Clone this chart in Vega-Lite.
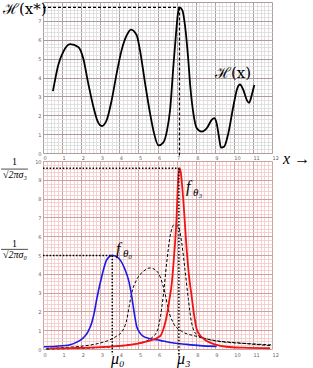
{
  "$schema": "https://vega.github.io/schema/vega-lite/v6.json",
  "autosize": "none",
  "padding": {"left": 43, "top": 2, "right": 270, "bottom": 366},
  "bounds": "flush",
  "spacing": 8,
  "config": {
    "view": {"stroke": null},
    "axis": {"labelFont": "DejaVu Sans", "labelFontSize": 5, "labelColor": "#666", "ticks": false, "domain": false, "labelOverlap": false, "labelFlush": false, "labelBound": false}
  },
  "datasets": {
    "H": [
      {"x":0.52,"y":3.28},{"x":0.63,"y":3.86},{"x":0.8,"y":4.66},{"x":1.06,"y":5.36},{"x":1.42,"y":5.77},{"x":1.85,"y":5.62},{"x":2.11,"y":5.01},{"x":2.37,"y":3.69},{"x":2.64,"y":2.45},{"x":2.87,"y":1.66},{"x":3.08,"y":1.43},{"x":3.34,"y":1.75},{"x":3.6,"y":2.8},{"x":3.86,"y":4.22},{"x":4.12,"y":5.45},{"x":4.39,"y":6.24},{"x":4.61,"y":6.54},{"x":4.91,"y":6.24},{"x":5.08,"y":5.45},{"x":5.35,"y":3.69},{"x":5.61,"y":2.1},{"x":5.82,"y":1.04},{"x":6.05,"y":0.4},{"x":6.3,"y":0.55},{"x":6.5,"y":1.2},{"x":6.66,"y":2.28},{"x":6.83,"y":4.57},{"x":6.97,"y":6.33},{"x":7.07,"y":7.39},{"x":7.15,"y":7.71},{"x":7.3,"y":7.57},{"x":7.45,"y":6.68},{"x":7.6,"y":5.1},{"x":7.72,"y":3.51},{"x":7.88,"y":2.1},{"x":8.06,"y":1.31},{"x":8.32,"y":1.13},{"x":8.58,"y":1.31},{"x":8.84,"y":1.75},{"x":8.97,"y":1.85},{"x":9.1,"y":1.57},{"x":9.22,"y":0.86},{"x":9.33,"y":0.28},{"x":9.49,"y":0.33},{"x":9.71,"y":1.04},{"x":9.97,"y":2.45},{"x":10.18,"y":3.42},{"x":10.32,"y":3.63},{"x":10.5,"y":3.33},{"x":10.68,"y":2.8},{"x":10.8,"y":2.66},{"x":10.94,"y":3.07},{"x":11.07,"y":3.6}
    ],
    "topGuide": [
      {"x":0,"x2":7.15,"y":7.71,"y2":7.71},
      {"x":7.15,"x2":7.15,"y":7.71,"y2":-0.15}
    ],
    "topLabels": [
      {"x":-2.1,"y":7.35,"t":"ℋ(x*)"},
      {"x":9.01,"y":4.0,"t":"ℋ(x)"}
    ],
    "blue": [
      {"x":0.05,"y":0.12},{"x":0.7,"y":0.15},{"x":1.42,"y":0.23},{"x":1.8,"y":0.38},{"x":2.11,"y":0.59},{"x":2.37,"y":0.94},{"x":2.55,"y":1.38},{"x":2.7,"y":2.0},{"x":2.81,"y":2.62},{"x":3.08,"y":3.86},{"x":3.34,"y":4.75},{"x":3.63,"y":4.98},{"x":3.95,"y":4.84},{"x":4.3,"y":4.22},{"x":4.5,"y":3.6},{"x":4.65,"y":2.8},{"x":4.8,"y":1.8},{"x":4.91,"y":1.2},{"x":5.05,"y":0.9},{"x":5.26,"y":0.67},{"x":5.6,"y":0.55},{"x":6.13,"y":0.46},{"x":6.66,"y":0.35},{"x":7.5,"y":0.25},{"x":8.23,"y":0.18},{"x":9.1,"y":0.14}
    ],
    "red": [
      {"x":0.35,"y":0.03},{"x":1.5,"y":0.05},{"x":3.0,"y":0.1},{"x":4.0,"y":0.17},{"x":4.73,"y":0.25},{"x":5.5,"y":0.42},{"x":6.13,"y":0.68},{"x":6.35,"y":1.2},{"x":6.48,"y":1.73},{"x":6.62,"y":2.6},{"x":6.75,"y":3.51},{"x":6.85,"y":4.7},{"x":6.92,"y":5.64},{"x":7.0,"y":7.0},{"x":7.06,"y":8.6},{"x":7.15,"y":9.62},{"x":7.22,"y":9.4},{"x":7.35,"y":7.94},{"x":7.53,"y":5.28},{"x":7.65,"y":3.9},{"x":7.79,"y":2.8},{"x":7.92,"y":1.8},{"x":8.06,"y":1.03},{"x":8.3,"y":0.65},{"x":8.58,"y":0.42},{"x":9.0,"y":0.25},{"x":9.63,"y":0.12},{"x":10.5,"y":0.07},{"x":11.9,"y":0.04}
    ],
    "dashed": [
      {"k":"a","x":0.15,"y":0.0},{"k":"a","x":1.0,"y":0.07},{"k":"a","x":2.11,"y":0.16},{"k":"a","x":3.0,"y":0.32},{"k":"a","x":3.51,"y":0.49},{"k":"a","x":3.85,"y":0.68},{"k":"a","x":4.12,"y":0.9},{"k":"a","x":4.3,"y":1.25},{"k":"a","x":4.39,"y":1.56},{"k":"a","x":4.52,"y":2.3},{"k":"a","x":4.65,"y":2.98},{"k":"a","x":4.91,"y":3.69},{"k":"a","x":5.26,"y":4.13},{"k":"a","x":5.61,"y":4.31},{"k":"a","x":5.9,"y":4.2},{"k":"a","x":6.13,"y":3.86},{"k":"a","x":6.28,"y":3.4},{"k":"a","x":6.39,"y":2.98},{"k":"a","x":6.57,"y":2.09},{"k":"a","x":6.83,"y":1.38},{"k":"a","x":7.27,"y":0.94},{"k":"a","x":8.06,"y":0.67},{"k":"a","x":9.1,"y":0.42},{"k":"a","x":10.85,"y":0.28},{"k":"a","x":11.95,"y":0.22},
      {"k":"b","x":0.2,"y":0.0},{"k":"b","x":3.0,"y":0.08},{"k":"b","x":5.0,"y":0.3},{"k":"b","x":5.7,"y":0.6},{"k":"b","x":6.0,"y":1.0},{"k":"b","x":6.15,"y":1.7},{"k":"b","x":6.3,"y":2.8},{"k":"b","x":6.48,"y":4.57},{"k":"b","x":6.66,"y":5.99},{"k":"b","x":6.87,"y":6.61},{"k":"b","x":7.09,"y":6.52},{"k":"b","x":7.27,"y":5.64},{"k":"b","x":7.44,"y":4.22},{"k":"b","x":7.62,"y":2.62},{"k":"b","x":7.79,"y":1.38},{"k":"b","x":8.06,"y":0.76},{"k":"b","x":8.75,"y":0.5},{"k":"b","x":10.3,"y":0.32},{"k":"b","x":11.95,"y":0.18}
    ],
    "botGuide": [
      {"x":0,"x2":7.12,"y":9.62,"y2":9.62},
      {"x":7.12,"x2":7.12,"y":9.62,"y2":-0.35},
      {"x":0,"x2":3.63,"y":4.98,"y2":4.98},
      {"x":3.63,"x2":3.63,"y":4.98,"y2":-0.3}
    ],
    "bigLabels": [
      {"x":3.83,"y":5.07,"t":"f"},
      {"x":7.49,"y":8.37,"t":"f"},
      {"x":3.56,"y":-0.78,"t":"μ₀"},
      {"x":7.02,"y":-0.78,"t":"μ₃"},
      {"x":12.58,"y":9.83,"t":"x →"}
    ],
    "subLabels": [
      {"x":4.19,"y":4.91,"t":"θ₀"},
      {"x":7.86,"y":8.15,"t":"θ₃"}
    ],
    "fracOne": [
      {"x":-1.49,"y":9.96,"t":"1"},
      {"x":-1.49,"y":5.57,"t":"1"}
    ],
    "fracDen": [
      {"x":-1.47,"y":9.23,"t":"√2πσ₃"},
      {"x":-1.47,"y":5.0,"t":"√2πσ₀"}
    ],
    "fracBars": [
      {"x":-2.2,"x2":-0.79,"y":9.57},
      {"x":-2.2,"x2":-0.79,"y":5.3}
    ]
  },
  "vconcat": [
    {
      "width": 229,
      "height": 151,
      "encoding": {
        "x": {"field": "x", "type": "quantitative", "scale": {"domain": [0, 12], "nice": false, "zero": false},
          "axis": {"title": null, "values": [0,0.2,0.4,0.6,0.8,1,1.2,1.4,1.6,1.8,2,2.2,2.4,2.6,2.8,3,3.2,3.4,3.6,3.8,4,4.2,4.4,4.6,4.8,5,5.2,5.4,5.6,5.8,6,6.2,6.4,6.6,6.8,7,7.2,7.4,7.6,7.8,8,8.2,8.4,8.6,8.8,9,9.2,9.4,9.6,9.8,10,10.2,10.4,10.6,10.8,11,11.2,11.4,11.6,11.8,12],
            "labelExpr": "datum.value % 1 === 0 ? '' + datum.value : ''", "labelAlign": "left", "labelDx": 1, "labelPadding": 2,
            "grid": true, "gridColor": {"condition": {"test": "datum.value % 1 === 0", "value": "#ad9d9d"}, "value": "#dadada"},
            "gridWidth": {"condition": {"test": "datum.value % 1 === 0", "value": 1}, "value": 0.8}}},
        "y": {"field": "y", "type": "quantitative", "scale": {"domain": [0, 8], "nice": false, "zero": false},
          "axis": {"title": null, "values": [0,0.2,0.4,0.6,0.8,1,1.2,1.4,1.6,1.8,2,2.2,2.4,2.6,2.8,3,3.2,3.4,3.6,3.8,4,4.2,4.4,4.6,4.8,5,5.2,5.4,5.6,5.8,6,6.2,6.4,6.6,6.8,7,7.2,7.4,7.6,7.8,8],
            "labelExpr": "datum.value % 1 === 0 && datum.value < 8 ? '' + datum.value : ''", "labelPadding": 2,
            "grid": true, "gridColor": {"condition": {"test": "datum.value % 1 === 0", "value": "#ad9d9d"}, "value": "#dadada"},
            "gridWidth": {"condition": {"test": "datum.value % 1 === 0", "value": 1}, "value": 0.8}}}
      },
      "layer": [
        {"data": {"name": "H"}, "mark": {"type": "line", "interpolate": "monotone", "color": "black", "strokeWidth": 1.8}},
        {"data": {"name": "topGuide"}, "mark": {"type": "rule", "color": "black", "strokeWidth": 1.2, "strokeDash": [3, 2]},
          "encoding": {"x2": {"field": "x2"}, "y2": {"field": "y2"}}},
        {"data": {"name": "topLabels"}, "mark": {"type": "text", "font": "DejaVu Serif", "fontSize": 15, "align": "left", "baseline": "alphabetic", "color": "black"},
          "encoding": {"text": {"field": "t"}}}
      ]
    },
    {
      "width": 229,
      "height": 188,
      "encoding": {
        "x": {"field": "x", "type": "quantitative", "scale": {"domain": [0, 12], "nice": false, "zero": false},
          "axis": {"title": null, "values": [0,0.2,0.4,0.6,0.8,1,1.2,1.4,1.6,1.8,2,2.2,2.4,2.6,2.8,3,3.2,3.4,3.6,3.8,4,4.2,4.4,4.6,4.8,5,5.2,5.4,5.6,5.8,6,6.2,6.4,6.6,6.8,7,7.2,7.4,7.6,7.8,8,8.2,8.4,8.6,8.8,9,9.2,9.4,9.6,9.8,10,10.2,10.4,10.6,10.8,11,11.2,11.4,11.6,11.8,12],
            "labelExpr": "datum.value % 1 === 0 ? '' + datum.value : ''", "labelAlign": "left", "labelDx": 1, "labelPadding": 3,
            "grid": true, "gridColor": {"condition": {"test": "datum.value % 1 === 0", "value": "#c9a2a2"}, "value": "#f2c8c8"},
            "gridWidth": {"condition": {"test": "datum.value % 1 === 0", "value": 1}, "value": 0.8}}},
        "y": {"field": "y", "type": "quantitative", "scale": {"domain": [0, 10], "nice": false, "zero": false},
          "axis": {"title": null, "values": [0,0.2,0.4,0.6,0.8,1,1.2,1.4,1.6,1.8,2,2.2,2.4,2.6,2.8,3,3.2,3.4,3.6,3.8,4,4.2,4.4,4.6,4.8,5,5.2,5.4,5.6,5.8,6,6.2,6.4,6.6,6.8,7,7.2,7.4,7.6,7.8,8,8.2,8.4,8.6,8.8,9,9.2,9.4,9.6,9.8,10],
            "labelExpr": "datum.value % 1 === 0 ? '' + datum.value : ''", "labelPadding": 2,
            "grid": true, "gridColor": {"condition": {"test": "datum.value % 1 === 0", "value": "#c9a2a2"}, "value": "#f2c8c8"},
            "gridWidth": {"condition": {"test": "datum.value % 1 === 0", "value": 1}, "value": 0.8}}}
      },
      "layer": [
        {"data": {"name": "dashed"}, "mark": {"type": "line", "interpolate": "monotone", "color": "black", "strokeWidth": 1, "strokeDash": [3, 2]},
          "encoding": {"detail": {"field": "k"}}},
        {"data": {"name": "blue"}, "mark": {"type": "line", "interpolate": "monotone", "color": "#1a1ae6", "strokeWidth": 1.6}},
        {"data": {"name": "red"}, "mark": {"type": "line", "interpolate": "monotone", "color": "#f01414", "strokeWidth": 1.8}},
        {"data": {"name": "botGuide"}, "mark": {"type": "rule", "color": "black", "strokeWidth": 1.5, "strokeDash": [1.5, 1.8]},
          "encoding": {"x2": {"field": "x2"}, "y2": {"field": "y2"}}},
        {"data": {"name": "fracBars"}, "mark": {"type": "rule", "color": "black", "strokeWidth": 0.7},
          "encoding": {"x2": {"field": "x2"}}},
        {"data": {"name": "bigLabels"}, "mark": {"type": "text", "font": "Liberation Serif", "fontStyle": "italic", "fontSize": 16, "align": "left", "baseline": "alphabetic", "color": "black"},
          "encoding": {"text": {"field": "t"}}},
        {"data": {"name": "subLabels"}, "mark": {"type": "text", "font": "Liberation Serif", "fontStyle": "italic", "fontSize": 11, "align": "left", "baseline": "alphabetic", "color": "black"},
          "encoding": {"text": {"field": "t"}}},
        {"data": {"name": "fracOne"}, "mark": {"type": "text", "font": "Liberation Serif", "fontSize": 10, "align": "center", "baseline": "middle", "color": "black"},
          "encoding": {"text": {"field": "t"}}},
        {"data": {"name": "fracDen"}, "mark": {"type": "text", "font": "Liberation Serif", "fontStyle": "italic", "fontSize": 10, "align": "center", "baseline": "middle", "color": "black"},
          "encoding": {"text": {"field": "t"}}}
      ]
    }
  ]
}
